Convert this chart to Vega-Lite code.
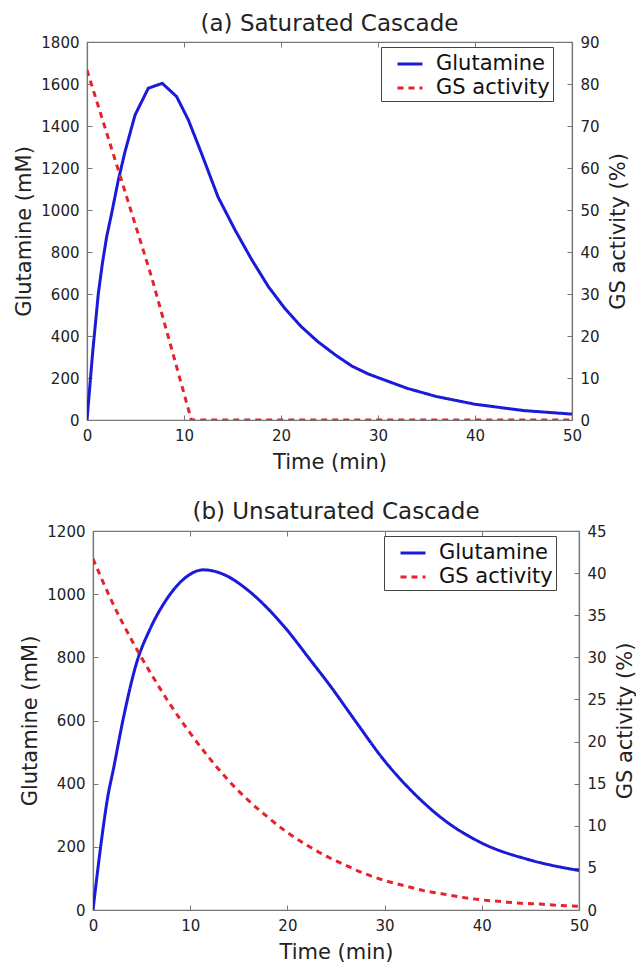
{
  "$schema": "https://vega.github.io/schema/vega-lite/v6.json",
  "padding": {"left": 2, "top": 12, "right": 0, "bottom": 0},
  "background": "white",
  "datasets": {
    "a": [
      {"t": 0, "v": 0, "s": "Glutamine"},
      {"t": 0.6, "v": 330, "s": "Glutamine"},
      {"t": 1.17, "v": 603, "s": "Glutamine"},
      {"t": 1.6, "v": 750, "s": "Glutamine"},
      {"t": 2.03, "v": 873, "s": "Glutamine"},
      {"t": 2.54, "v": 984, "s": "Glutamine"},
      {"t": 3.23, "v": 1143, "s": "Glutamine"},
      {"t": 3.92, "v": 1278, "s": "Glutamine"},
      {"t": 4.95, "v": 1452, "s": "Glutamine"},
      {"t": 6.32, "v": 1580, "s": "Glutamine"},
      {"t": 7.76, "v": 1603, "s": "Glutamine"},
      {"t": 9.24, "v": 1540, "s": "Glutamine"},
      {"t": 10.45, "v": 1429, "s": "Glutamine"},
      {"t": 11.8, "v": 1270, "s": "Glutamine"},
      {"t": 13.5, "v": 1063, "s": "Glutamine"},
      {"t": 15.26, "v": 905, "s": "Glutamine"},
      {"t": 17.0, "v": 762, "s": "Glutamine"},
      {"t": 18.7, "v": 635, "s": "Glutamine"},
      {"t": 20.4, "v": 531, "s": "Glutamine"},
      {"t": 22.1, "v": 444, "s": "Glutamine"},
      {"t": 23.8, "v": 373, "s": "Glutamine"},
      {"t": 25.6, "v": 310, "s": "Glutamine"},
      {"t": 27.3, "v": 257, "s": "Glutamine"},
      {"t": 29.0, "v": 219, "s": "Glutamine"},
      {"t": 30.7, "v": 190, "s": "Glutamine"},
      {"t": 33, "v": 151, "s": "Glutamine"},
      {"t": 36, "v": 112, "s": "Glutamine"},
      {"t": 40, "v": 75, "s": "Glutamine"},
      {"t": 45, "v": 45, "s": "Glutamine"},
      {"t": 50, "v": 28, "s": "Glutamine"},
      {"t": 0, "v": 83.3, "s": "GS activity"},
      {"t": 3.23, "v": 59.5, "s": "GS activity"},
      {"t": 6.65, "v": 34.1, "s": "GS activity"},
      {"t": 8.38, "v": 19.8, "s": "GS activity"},
      {"t": 10.1, "v": 5.5, "s": "GS activity"},
      {"t": 10.76, "v": 0, "s": "GS activity"},
      {"t": 30, "v": 0, "s": "GS activity"},
      {"t": 50, "v": 0, "s": "GS activity"}
    ],
    "b": [
      {"t": 0, "v": 0, "s": "Glutamine"},
      {"t": 0.5, "v": 130, "s": "Glutamine"},
      {"t": 1, "v": 250, "s": "Glutamine"},
      {"t": 1.5, "v": 355, "s": "Glutamine"},
      {"t": 2.1, "v": 446, "s": "Glutamine"},
      {"t": 3.1, "v": 604, "s": "Glutamine"},
      {"t": 4.5, "v": 784, "s": "Glutamine"},
      {"t": 5.86, "v": 889, "s": "Glutamine"},
      {"t": 7.58, "v": 984, "s": "Glutamine"},
      {"t": 9.3, "v": 1047, "s": "Glutamine"},
      {"t": 11.35, "v": 1077, "s": "Glutamine"},
      {"t": 13.4, "v": 1063, "s": "Glutamine"},
      {"t": 15.8, "v": 1016, "s": "Glutamine"},
      {"t": 17.87, "v": 958, "s": "Glutamine"},
      {"t": 19.9, "v": 889, "s": "Glutamine"},
      {"t": 22.3, "v": 794, "s": "Glutamine"},
      {"t": 24.4, "v": 710, "s": "Glutamine"},
      {"t": 27, "v": 598, "s": "Glutamine"},
      {"t": 30, "v": 472, "s": "Glutamine"},
      {"t": 33, "v": 370, "s": "Glutamine"},
      {"t": 36, "v": 288, "s": "Glutamine"},
      {"t": 40, "v": 212, "s": "Glutamine"},
      {"t": 45, "v": 158, "s": "Glutamine"},
      {"t": 50, "v": 125, "s": "Glutamine"},
      {"t": 0, "v": 41.7, "s": "GS activity"},
      {"t": 2, "v": 36.5, "s": "GS activity"},
      {"t": 4, "v": 32, "s": "GS activity"},
      {"t": 6, "v": 28, "s": "GS activity"},
      {"t": 8, "v": 24.3, "s": "GS activity"},
      {"t": 10, "v": 21, "s": "GS activity"},
      {"t": 12, "v": 18, "s": "GS activity"},
      {"t": 14, "v": 15.3, "s": "GS activity"},
      {"t": 16, "v": 13, "s": "GS activity"},
      {"t": 18, "v": 11, "s": "GS activity"},
      {"t": 20, "v": 9.2, "s": "GS activity"},
      {"t": 22, "v": 7.7, "s": "GS activity"},
      {"t": 24, "v": 6.4, "s": "GS activity"},
      {"t": 26, "v": 5.3, "s": "GS activity"},
      {"t": 28, "v": 4.3, "s": "GS activity"},
      {"t": 30, "v": 3.5, "s": "GS activity"},
      {"t": 32, "v": 2.9, "s": "GS activity"},
      {"t": 34, "v": 2.3, "s": "GS activity"},
      {"t": 36, "v": 1.9, "s": "GS activity"},
      {"t": 38, "v": 1.5, "s": "GS activity"},
      {"t": 40, "v": 1.2, "s": "GS activity"},
      {"t": 42, "v": 1.0, "s": "GS activity"},
      {"t": 44, "v": 0.8, "s": "GS activity"},
      {"t": 46, "v": 0.7, "s": "GS activity"},
      {"t": 48, "v": 0.55, "s": "GS activity"},
      {"t": 50, "v": 0.45, "s": "GS activity"}
    ]
  },
  "spacing": 27,
  "resolve": {"scale": {"color": "independent", "strokeDash": "independent"}},
  "vconcat": [
    {
      "spacing": 10,
      "resolve": {"scale": {"color": "independent", "strokeDash": "independent"}},
      "hconcat": [
        {"width": 1, "height": 1, "data": {"values": []}, "mark": {"type": "point", "opacity": 0}, "view": {"stroke": null}},
        {
          "title": {"text": "(a) Saturated Cascade", "offset": -1},
          "width": 485,
          "height": 378,
          "data": {"name": "a"},
          "layer": [
            {
              "transform": [{"filter": "datum.s == 'Glutamine'"}],
              "mark": {"type": "line", "strokeWidth": 3, "clip": true},
              "encoding": {
                "x": {"field": "t", "type": "quantitative", "scale": {"domain": [0, 50], "nice": false},
                      "axis": {"title": "Time (min)", "values": [0, 10, 20, 30, 40, 50]}},
                "y": {"field": "v", "type": "quantitative", "scale": {"domain": [0, 1800], "nice": false},
                      "axis": {"title": "Glutamine (mM)", "titlePadding": 6, "format": "d", "values": [0, 200, 400, 600, 800, 1000, 1200, 1400, 1600, 1800]}},
                "color": {"field": "s", "type": "nominal", "scale": {"domain": ["Glutamine", "GS activity"], "range": ["#1a1ad8", "#e8222a"]}, "legend": {"title": null, "orient": "none", "legendX": 294, "legendY": 5}},
                "strokeDash": {"field": "s", "type": "nominal", "scale": {"domain": ["Glutamine", "GS activity"], "range": [[1, 0], [6, 5]]}, "legend": {"title": null, "orient": "none", "legendX": 294, "legendY": 5}}
              }
            },
            {
              "transform": [{"filter": "datum.s == 'GS activity'"}],
              "mark": {"type": "line", "strokeWidth": 3, "clip": true},
              "encoding": {
                "x": {"field": "t", "type": "quantitative", "scale": {"domain": [0, 50], "nice": false},
                      "axis": {"orient": "top", "labels": false, "title": null, "values": [0, 10, 20, 30, 40, 50]}},
                "y": {"field": "v", "type": "quantitative", "scale": {"domain": [0, 90], "nice": false},
                      "axis": {"orient": "right", "title": "GS activity (%)", "titleAngle": 270, "titleBaseline": "top", "format": "d", "values": [0, 10, 20, 30, 40, 50, 60, 70, 80, 90]}},
                "color": {"field": "s", "type": "nominal", "scale": {"domain": ["Glutamine", "GS activity"], "range": ["#1a1ad8", "#e8222a"]}, "legend": {"title": null, "orient": "none", "legendX": 294, "legendY": 5}},
                "strokeDash": {"field": "s", "type": "nominal", "scale": {"domain": ["Glutamine", "GS activity"], "range": [[1, 0], [6, 5]]}, "legend": {"title": null, "orient": "none", "legendX": 294, "legendY": 5}}
              }
            }
          ],
          "resolve": {"scale": {"y": "independent"}, "axis": {"x": "independent"}}
        }
      ]
    },
    {
      "spacing": 16,
      "resolve": {"scale": {"color": "independent", "strokeDash": "independent"}},
      "hconcat": [
        {"width": 1, "height": 1, "data": {"values": []}, "mark": {"type": "point", "opacity": 0}, "view": {"stroke": null}},
        {
          "title": {"text": "(b) Unsaturated Cascade", "offset": 0},
          "width": 486,
          "height": 379,
          "data": {"name": "b"},
          "layer": [
            {
              "transform": [{"filter": "datum.s == 'Glutamine'"}],
              "mark": {"type": "line", "strokeWidth": 3, "clip": true, "interpolate": "monotone"},
              "encoding": {
                "x": {"field": "t", "type": "quantitative", "scale": {"domain": [0, 50], "nice": false},
                      "axis": {"title": "Time (min)", "values": [0, 10, 20, 30, 40, 50]}},
                "y": {"field": "v", "type": "quantitative", "scale": {"domain": [0, 1200], "nice": false},
                      "axis": {"title": "Glutamine (mM)", "titlePadding": 6, "format": "d", "values": [0, 200, 400, 600, 800, 1000, 1200]}},
                "color": {"field": "s", "type": "nominal", "scale": {"domain": ["Glutamine", "GS activity"], "range": ["#1a1ad8", "#e8222a"]}, "legend": {"title": null, "orient": "none", "legendX": 291, "legendY": 5}},
                "strokeDash": {"field": "s", "type": "nominal", "scale": {"domain": ["Glutamine", "GS activity"], "range": [[1, 0], [6, 5]]}, "legend": {"title": null, "orient": "none", "legendX": 291, "legendY": 5}}
              }
            },
            {
              "transform": [{"filter": "datum.s == 'GS activity'"}],
              "mark": {"type": "line", "strokeWidth": 3, "clip": true, "interpolate": "monotone"},
              "encoding": {
                "x": {"field": "t", "type": "quantitative", "scale": {"domain": [0, 50], "nice": false},
                      "axis": {"orient": "top", "labels": false, "title": null, "values": [0, 10, 20, 30, 40, 50]}},
                "y": {"field": "v", "type": "quantitative", "scale": {"domain": [0, 45], "nice": false},
                      "axis": {"orient": "right", "title": "GS activity (%)", "titleAngle": 270, "titleBaseline": "top", "format": "d", "values": [0, 5, 10, 15, 20, 25, 30, 35, 40, 45]}},
                "color": {"field": "s", "type": "nominal", "scale": {"domain": ["Glutamine", "GS activity"], "range": ["#1a1ad8", "#e8222a"]}, "legend": {"title": null, "orient": "none", "legendX": 291, "legendY": 5}},
                "strokeDash": {"field": "s", "type": "nominal", "scale": {"domain": ["Glutamine", "GS activity"], "range": [[1, 0], [6, 5]]}, "legend": {"title": null, "orient": "none", "legendX": 291, "legendY": 5}}
              }
            }
          ],
          "resolve": {"scale": {"y": "independent"}, "axis": {"x": "independent"}}
        }
      ]
    }
  ],
  "config": {
    "font": "DejaVu Sans",
    "view": {"stroke": "#777", "strokeWidth": 1.2},
    "axis": {
      "grid": false,
      "domainColor": "#777",
      "domainWidth": 1.2,
      "tickColor": "#777",
      "tickSize": -5,
      "tickWidth": 1,
      "labelPadding": 13,
      "labelFont": "DejaVu Sans",
      "labelFontSize": 15,
      "labelColor": "#222",
      "labelFlush": false,
      "labelOverlap": false,
      "titleFont": "DejaVu Sans",
      "titleFontSize": 21,
      "titleFontWeight": "normal",
      "titleColor": "#222",
      "titlePadding": 8
    },
    "title": {"font": "DejaVu Sans", "fontSize": 23, "fontWeight": "normal", "color": "#222"},
    "legend": {
      "padding": 3,
      "strokeColor": "#444",
      "fillColor": "white",
      "cornerRadius": 0,
      "labelFont": "DejaVu Sans",
      "labelFontSize": 21,
      "labelColor": "#111",
      "labelExpr": "datum.label + '  '",
      "symbolType": "stroke",
      "symbolSize": 625,
      "symbolStrokeWidth": 3,
      "symbolOffset": 12,
      "labelOffset": 12,
      "rowPadding": 0
    }
  }
}
